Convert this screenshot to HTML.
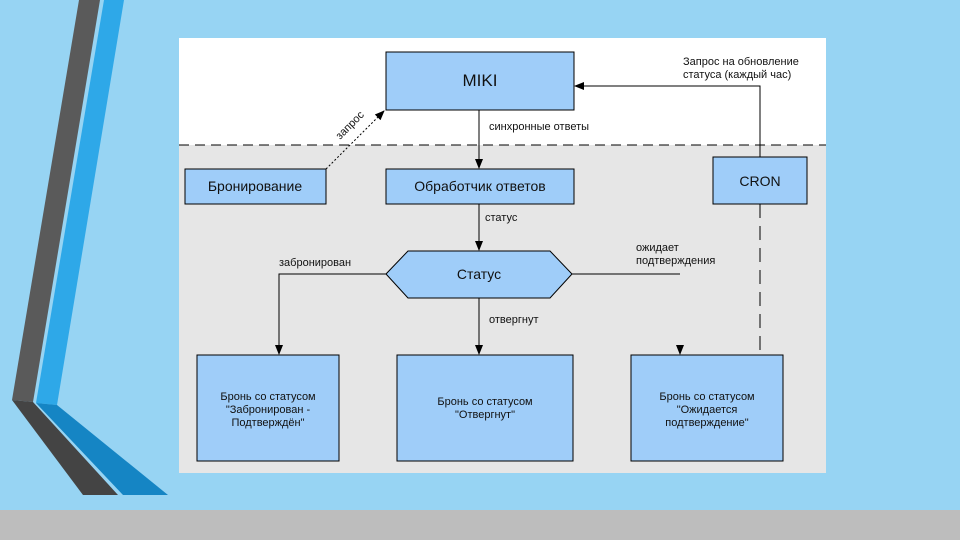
<!DOCTYPE html>
<html><head><meta charset="utf-8"><style>
body{margin:0;width:960px;height:540px;overflow:hidden;background:#97d4f3;font-family:"Liberation Sans",sans-serif}
</style></head><body>
<svg width="960" height="540" style="position:absolute;left:0;top:0" font-family="Liberation Sans, sans-serif">
<defs><marker id="a" markerWidth="10" markerHeight="10" refX="9" refY="5" orient="auto" markerUnits="userSpaceOnUse"><path d="M0,1 L10,5 L0,9z" fill="#000"/></marker></defs>
<rect x="0" y="510" width="960" height="30" fill="#bdbdbd"/>
<polygon points="79,0 100,0 33,402 12,400" fill="#5a5a5a"/>
<polygon points="12,400 33,402 118,495 83,495" fill="#444"/>
<polygon points="104,0 124,0 57,405 36,403" fill="#2ea8e8"/>
<polygon points="36,403 57,405 168,495 123,495" fill="#1585c4"/>
<rect x="179" y="38" width="647" height="435" fill="#e6e6e6"/>
<rect x="179" y="38" width="647" height="107" fill="#fff"/>
<line x1="179" y1="145" x2="826" y2="145" stroke="#000" stroke-dasharray="10,6"/>
<g fill="#9fcdf9" stroke="#000" stroke-width="1">
<rect x="386" y="52" width="188" height="58"/>
<rect x="185" y="169" width="141" height="35"/>
<rect x="386" y="169" width="188" height="35"/>
<rect x="713" y="157" width="94" height="47"/>
<polygon points="386,274 408,251 550,251 572,274 550,298 408,298"/>
<rect x="197" y="355" width="142" height="106"/>
<rect x="397" y="355" width="176" height="106"/>
<rect x="631" y="355" width="152" height="106"/>
</g>
<g stroke="#000" fill="none">
<line x1="479" y1="110" x2="479" y2="168" marker-end="url(#a)"/>
<line x1="479" y1="204" x2="479" y2="250" marker-end="url(#a)"/>
<line x1="479" y1="298" x2="479" y2="354" marker-end="url(#a)"/>
<polyline points="386,274 279,274 279,354" marker-end="url(#a)"/>
<line x1="572" y1="274" x2="680" y2="274"/>
<line x1="680" y1="345" x2="680" y2="354" marker-end="url(#a)"/>
<polyline points="760,157 760,86 575,86" marker-end="url(#a)"/>
<line x1="760" y1="204" x2="760" y2="355" stroke-dasharray="14,8"/>
<line x1="326" y1="169" x2="384" y2="111" stroke-dasharray="2,2" marker-end="url(#a)"/>
</g>
<g font-size="14" text-anchor="middle" fill="#111">
<text x="480" y="86" font-size="17">MIKI</text>
<text x="255" y="191">Бронирование</text>
<text x="480" y="191">Обработчик ответов</text>
<text x="760" y="186">CRON</text>
<text x="479" y="279">Статус</text>
</g>
<g font-size="11" fill="#111">
<text x="489" y="130">синхронные ответы</text>
<text x="485" y="221">статус</text>
<text x="279" y="266">забронирован</text>
<text x="636" y="251">ожидает</text>
<text x="636" y="264">подтверждения</text>
<text x="489" y="323">отвергнут</text>
<text x="683" y="65">Запрос на обновление</text>
<text x="683" y="78">статуса (каждый час)</text>
<text transform="translate(340,140) rotate(-45)">запрос</text>
</g>
<g font-size="11" text-anchor="middle" fill="#111">
<text x="268" y="400">Бронь со статусом</text>
<text x="268" y="413">"Забронирован -</text>
<text x="268" y="426">Подтверждён"</text>
<text x="485" y="405">Бронь со статусом</text>
<text x="485" y="418">"Отвергнут"</text>
<text x="707" y="400">Бронь со статусом</text>
<text x="707" y="413">"Ожидается</text>
<text x="707" y="426">подтверждение"</text>
</g>
</svg>
</body></html>
